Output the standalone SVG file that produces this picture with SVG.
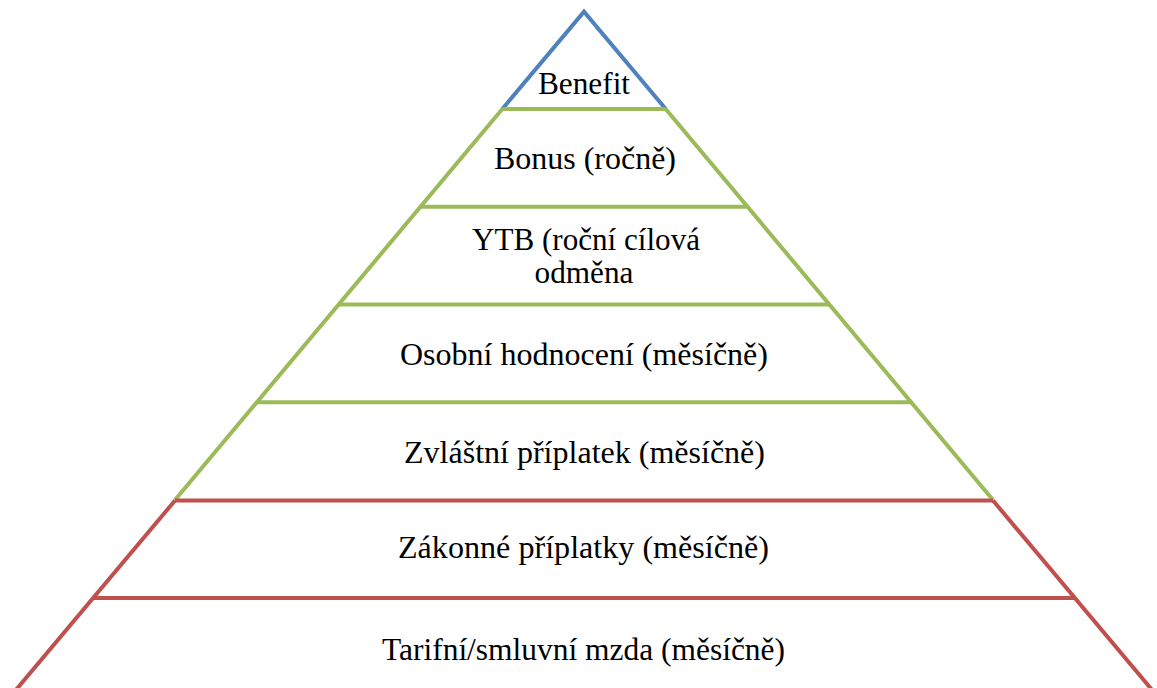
<svg xmlns="http://www.w3.org/2000/svg" width="1157" height="688" viewBox="0 0 1157 688">
<style>
.t{font-family:"Liberation Serif","Times New Roman",serif;font-size:31px;fill:#000;text-anchor:middle}
.b{fill:none;stroke:#4F81BD;stroke-width:4;stroke-linejoin:miter}
.g{fill:none;stroke:#9BBB59;stroke-width:4;stroke-linejoin:miter}
.r{fill:none;stroke:#C0504D;stroke-width:4;stroke-linejoin:miter}
</style>
<rect width="1157" height="688" fill="#fff"/>
<g id="connectors">
<polyline class="b" points="502.3,109 584,11.7 665.7,109"/>
<g id="green">
<polyline class="g" points="502.3,109 175,500"/>
<polyline class="g" points="665.7,109 993,500"/>
<line class="g" x1="502.3" y1="109" x2="665.7" y2="109"/>
<line class="g" x1="420.3" y1="206.8" x2="747.7" y2="206.8"/>
<line class="g" x1="338.2" y1="304.5" x2="829.8" y2="304.5"/>
<line class="g" x1="256.2" y1="402.3" x2="911.8" y2="402.3"/>
</g>
<g id="red">
<polyline class="r" points="175,500.5 993,500.5"/>
<polyline class="r" points="175,500.5 10,697"/>
<polyline class="r" points="993,500.5 1158,697"/>
<line class="r" x1="92.5" y1="598" x2="1075.5" y2="598"/>
</g>
</g>
<g id="benefit"><text class="t" x="584" y="94" textLength="92" lengthAdjust="spacingAndGlyphs">Benefit</text></g>
<g id="bonus"><text class="t" x="585" y="169" textLength="182" lengthAdjust="spacingAndGlyphs">Bonus (ročně)</text></g>
<g id="ytb"><text class="t" x="586" y="250" textLength="228" lengthAdjust="spacingAndGlyphs">YTB (roční cílová</text><text class="t" x="584" y="283" textLength="99" lengthAdjust="spacingAndGlyphs">odměna</text></g>
<g id="osobni"><text class="t" x="584" y="365" textLength="368" lengthAdjust="spacingAndGlyphs">Osobní hodnocení (měsíčně)</text></g>
<g id="zvlastni"><text class="t" x="584.5" y="463" textLength="361" lengthAdjust="spacingAndGlyphs">Zvláštní příplatek (měsíčně)</text></g>
<g id="zakonne"><text class="t" x="583.5" y="558" textLength="371" lengthAdjust="spacingAndGlyphs">Zákonné příplatky (měsíčně)</text></g>
<g id="tarifni"><text class="t" x="583.5" y="660" textLength="403" lengthAdjust="spacingAndGlyphs">Tarifní/smluvní mzda (měsíčně)</text></g>
</svg>
